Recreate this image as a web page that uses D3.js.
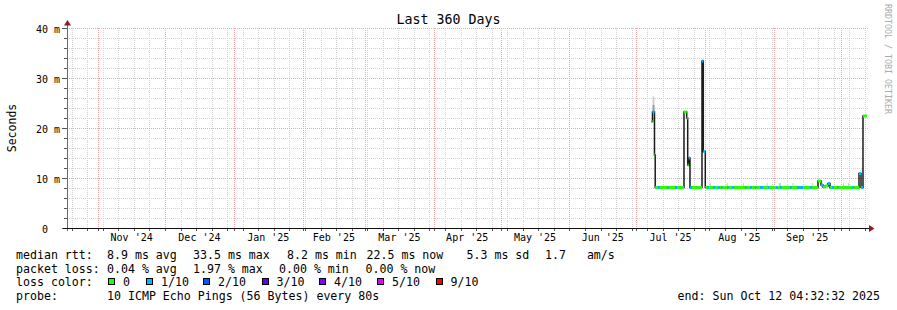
<!DOCTYPE html>
<html lang="en">
    <head>
        <meta charset="utf-8">
        <title>Last 360 Days</title>
        <style>
            body { margin: 0; background: #ffffff; }
            svg text { font-family: "DejaVu Sans Mono", monospace; fill: #000000; }
        </style>
    </head>
    <body>
        <div id="wrapper"></div>
        <script src="https://cdn.jsdelivr.net/npm/d3@7"></script>
        <script>
            // time range of the graph (UTC)
            const rangeStart = "2024-10-17T21:50:00Z"
            const rangeEnd = "2025-10-12T21:50:00Z"

            const yGridValues = [0, 2, 4, 6, 8, 10, 12, 14, 16, 18, 20, 22, 24, 26, 28, 30, 32, 34, 36, 38, 40]
            const yTicks = [0, 10, 20, 30, 40]
            const yTickLabels = ["0  ", "10 m", "20 m", "30 m", "40 m"]

            // median rtt (ms), each sample holds until the next one
            const medianTimes = [
                "2025-07-07T17:00Z", "2025-07-08T09:00Z", "2025-07-09T06:40Z", "2025-07-09T14:30Z",
                "2025-07-10T20:30Z", "2025-07-11T18:00Z", "2025-07-14T21:40Z", "2025-07-15T14:00Z",
                "2025-07-18T12:00Z", "2025-07-19T09:40Z", "2025-07-22T13:20Z", "2025-07-23T18:30Z",
                "2025-07-24T05:20Z", "2025-07-24T16:00Z", "2025-07-25T06:00Z", "2025-07-26T03:40Z",
                "2025-07-30T15:40Z", "2025-07-31T05:50Z", "2025-08-01T03:20Z", "2025-08-01T21:40Z",
                "2025-08-02T19:20Z", "2025-08-04T14:30Z", "2025-08-05T12:00Z", "2025-08-06T20:30Z",
                "2025-08-07T12:40Z", "2025-08-08T04:50Z", "2025-08-08T21:00Z", "2025-08-10T21:40Z",
                "2025-08-11T14:00Z", "2025-08-13T03:40Z", "2025-08-13T20:00Z", "2025-08-19T00:00Z",
                "2025-08-19T16:20Z", "2025-08-21T06:00Z", "2025-08-22T03:40Z", "2025-08-23T12:00Z",
                "2025-08-24T04:20Z", "2025-08-25T18:00Z", "2025-08-27T02:30Z", "2025-08-29T08:30Z",
                "2025-08-29T19:20Z", "2025-09-01T23:00Z", "2025-09-02T15:00Z", "2025-09-03T18:00Z",
                "2025-09-04T15:40Z", "2025-09-08T06:00Z", "2025-09-09T03:40Z", "2025-09-11T09:40Z",
                "2025-09-14T02:30Z", "2025-09-17T06:00Z", "2025-09-18T03:40Z", "2025-09-20T20:30Z",
                "2025-09-22T05:00Z", "2025-09-23T02:30Z", "2025-09-24T00:00Z", "2025-09-25T08:30Z",
                "2025-09-26T06:00Z", "2025-09-27T03:40Z", "2025-09-28T01:20Z", "2025-09-29T09:40Z",
                "2025-09-30T02:00Z", "2025-10-06T03:40Z", "2025-10-06T20:00Z", "2025-10-09T07:20Z",
                "2025-10-10T05:00Z", "2025-10-11T02:30Z"
            ]
            const medianValues = [
                21.3, 23.2, 14.6, 8.1,
                8.1, 8.1, 8.1, 8.1,
                8.1, 8.1, 23.2, 22.0,
                12.6, 14.0, 8.1, 8.1,
                33.4, 15.3, 8.1, 8.1,
                8.1, 8.1, 8.1, 8.1,
                8.1, 8.1, 8.1, 8.1,
                8.1, 8.1, 8.1, 8.1,
                8.1, 8.1, 8.1, 8.1,
                8.1, 8.1, 8.1, 8.1,
                8.1, 8.1, 8.1, 8.1,
                8.1, 8.1, 8.1, 8.1,
                8.1, 8.1, 8.1, 9.4,
                8.6, 8.2, 8.4, 8.9,
                8.1, 8.1, 8.1, 8.1,
                8.1, 8.1, 8.1, 10.9,
                8.1, 22.4
            ]
            // packet loss bin of each sample (index into lossLabels)
            const medianLoss = [
                0, 1, 0, 0,
                1, 0, 1, 0,
                1, 0, 0, 0,
                0, 1, 1, 0,
                1, 1, 0, 1,
                0, 1, 0, 1,
                0, 1, 0, 1,
                0, 1, 0, 1,
                0, 1, 0, 1,
                0, 1, 0, 1,
                0, 1, 0, 1,
                0, 1, 0, 1,
                0, 1, 0, 0,
                1, 0, 0, 1,
                0, 1, 0, 1,
                0, 1, 0, 1,
                1, 0
            ]

            // smoke (spread of the single pings)
            const smokeStart = [
                "2025-07-08T10:00Z", "2025-08-03T06:00Z", "2025-08-10T18:30Z", "2025-08-18T02:30Z",
                "2025-08-28T18:30Z", "2025-09-03T07:20Z", "2025-09-09T09:00Z", "2025-09-18T00:30Z",
                "2025-10-02T02:30Z", "2025-10-04T08:30Z"
            ]
            const smokeStop = [
                "2025-07-09T06:40Z", "2025-08-03T17:00Z", "2025-08-11T05:30Z", "2025-08-18T13:30Z",
                "2025-08-29T05:30Z", "2025-09-04T05:00Z", "2025-09-09T20:00Z", "2025-09-18T11:30Z",
                "2025-10-02T13:30Z", "2025-10-04T19:30Z"
            ]
            const smokeLow = [23.3, 8.1, 8.1, 8.1, 8.1, 8.1, 8.1, 8.1, 8.1, 8.1]
            const smokeHigh = [26.3, 9.0, 9.0, 9.0, 9.0, 9.0, 9.0, 9.0, 9.0, 9.0]
            const smokeCoreStart = ["2025-07-08T10:00Z"]
            const smokeCoreStop = ["2025-07-09T06:40Z"]
            const smokeCoreLow = [23.3]
            const smokeCoreHigh = [24.6]

            const lossLabels = ["0", "1/10", "2/10", "3/10", "4/10", "5/10", "9/10"]
            const lossColors = ["#26ff00", "#00b8ff", "#0059ff", "#5e00ff", "#7e00ff", "#dd00ff", "#ff0000"]

            const medianLegend = ["8.9 ms avg", "33.5 ms max", "8.2 ms min", "22.5 ms now", "5.3 ms sd", "1.7   am/s"]
            const lossLegend = ["0.04 % avg", "1.97 % max", "0.00 % min", "0.00 % now"]
            const probeText = "10 ICMP Echo Pings (56 Bytes) every 80s"
            const endText = "end: Sun Oct 12 04:32:32 2025"

            function drawChart() {
                let dimensions = {
                    width: 897,
                    height: 310,
                    margin: {
                        top: 28,
                        right: 30,
                        bottom: 82,
                        left: 67,
                    },
                }
                dimensions.boundedWidth = dimensions.width - dimensions.margin.left - dimensions.margin.right
                dimensions.boundedHeight = dimensions.height - dimensions.margin.top - dimensions.margin.bottom

                const left = dimensions.margin.left
                const right = left + dimensions.boundedWidth
                const top = dimensions.margin.top
                const bottom = top + dimensions.boundedHeight
                const px = v => Math.round(v) + 0.5

                const xScale = d3.scaleUtc()
                    .domain([new Date(rangeStart), new Date(rangeEnd)])
                    .range([left, right])
                const yScale = d3.scaleLinear()
                    .domain([0, 40])
                    .range([bottom, top])

                const wrapper = d3.select("#wrapper")
                    .append("svg")
                    .attr("width", dimensions.width)
                    .attr("height", dimensions.height)

                wrapper.append("rect")
                    .attr("width", dimensions.width)
                    .attr("height", dimensions.height)
                    .attr("fill", "#ffffff")

                // grid
                const grid = wrapper.append("g")
                    .attr("shape-rendering", "crispEdges")
                const [t0, t1] = xScale.domain()
                const weeks = d3.utcSunday.range(t0, t1)
                const months = d3.utcMonth.range(t0, t1)

                grid.selectAll(".hgrid")
                    .data(yGridValues.filter(v => v % 10 !== 0))
                    .join("line")
                    .attr("x1", left).attr("x2", right + 2)
                    .attr("y1", d => px(yScale(d))).attr("y2", d => px(yScale(d)))
                    .attr("stroke", "#d2d2d2")
                    .attr("stroke-dasharray", "1,1")
                grid.selectAll(".vgrid")
                    .data(weeks)
                    .join("line")
                    .attr("x1", d => px(xScale(d))).attr("x2", d => px(xScale(d)))
                    .attr("y1", top).attr("y2", bottom)
                    .attr("stroke", "#d2d2d2")
                    .attr("stroke-dasharray", "1,1")
                grid.selectAll(".hmgrid")
                    .data(yTicks)
                    .join("line")
                    .attr("x1", left).attr("x2", right + 2)
                    .attr("y1", d => px(yScale(d))).attr("y2", d => px(yScale(d)))
                    .attr("stroke", "#f4a4a4")
                    .attr("stroke-dasharray", "1,1")
                grid.selectAll(".vmgrid")
                    .data(months)
                    .join("line")
                    .attr("x1", d => px(xScale(d))).attr("x2", d => px(xScale(d)))
                    .attr("y1", top).attr("y2", bottom)
                    .attr("stroke", "#f4a4a4")
                    .attr("stroke-dasharray", "1,1")

                // smoke
                const smoke = wrapper.append("g")
                smoke.selectAll("rect.smoke")
                    .data(smokeStart)
                    .join("rect")
                    .attr("class", "smoke")
                    .attr("x", (d, i) => xScale(new Date(d)))
                    .attr("width", (d, i) => xScale(new Date(smokeStop[i])) - xScale(new Date(d)))
                    .attr("y", (d, i) => yScale(smokeHigh[i]))
                    .attr("height", (d, i) => yScale(smokeLow[i]) - yScale(smokeHigh[i]))
                    .attr("fill", "#cccccc")
                smoke.selectAll("rect.core")
                    .data(smokeCoreStart)
                    .join("rect")
                    .attr("class", "core")
                    .attr("x", (d, i) => xScale(new Date(d)))
                    .attr("width", (d, i) => xScale(new Date(smokeCoreStop[i])) - xScale(new Date(d)))
                    .attr("y", (d, i) => yScale(smokeCoreHigh[i]))
                    .attr("height", (d, i) => yScale(smokeCoreLow[i]) - yScale(smokeCoreHigh[i]))
                    .attr("fill", "#9e9e9e")

                // median line: dark step line, then loss coloured segments on top
                const samples = medianTimes.map((t, i) => ({
                    start: new Date(t),
                    stop: i < medianTimes.length - 1 ? new Date(medianTimes[i + 1]) : t1,
                    value: medianValues[i],
                    loss: medianLoss[i],
                }))
                const stepPoints = samples.map(d => [d.start, d.value])
                stepPoints.push([t1, samples[samples.length - 1].value])

                const lineGenerator = d3.line()
                    .x(d => xScale(d[0]))
                    .y(d => yScale(d[1]))
                    .curve(d3.curveStepAfter)

                wrapper.append("path")
                    .attr("d", lineGenerator(stepPoints))
                    .attr("fill", "none")
                    .attr("stroke", "#1c1c1c")
                    .attr("stroke-width", 1.5)

                wrapper.append("g")
                    .selectAll("line")
                    .data(samples)
                    .join("line")
                    .attr("x1", d => xScale(d.start))
                    .attr("x2", d => xScale(d.stop))
                    .attr("y1", d => yScale(d.value))
                    .attr("y2", d => yScale(d.value))
                    .attr("stroke", d => lossColors[d.loss])
                    .attr("stroke-width", 3)

                // axes
                const axes = wrapper.append("g")
                    .attr("shape-rendering", "crispEdges")
                axes.selectAll(".ytick")
                    .data(yGridValues)
                    .join("line")
                    .attr("x1", d => d % 10 === 0 ? left - 5 : left - 3).attr("x2", left)
                    .attr("y1", d => px(yScale(d))).attr("y2", d => px(yScale(d)))
                    .attr("stroke", "#555555")
                axes.selectAll(".xtick")
                    .data(weeks.concat(months))
                    .join("line")
                    .attr("x1", d => px(xScale(d))).attr("x2", d => px(xScale(d)))
                    .attr("y1", bottom).attr("y2", bottom + 3)
                    .attr("stroke", "#555555")
                axes.append("line")
                    .attr("x1", px(left)).attr("x2", px(left))
                    .attr("y1", top - 3).attr("y2", bottom + 3)
                    .attr("stroke", "#6a6a6a")
                axes.append("line")
                    .attr("x1", left - 4).attr("x2", right + 3)
                    .attr("y1", px(bottom)).attr("y2", px(bottom))
                    .attr("stroke", "#111111")

                const arrowColor = "#8c1c1c"
                wrapper.append("path")
                    .attr("d", `M${px(left)},${top - 8}L${px(left) - 3.5},${top - 2.5}L${px(left) + 3.5},${top - 2.5}Z`)
                    .attr("fill", arrowColor)
                wrapper.append("path")
                    .attr("d", `M${right + 7.5},${px(bottom)}L${right + 2},${px(bottom) - 3.5}L${right + 2},${px(bottom) + 3.5}Z`)
                    .attr("fill", arrowColor)

                // y labels
                wrapper.append("g")
                    .selectAll("text")
                    .data(yTicks)
                    .join("text")
                    .attr("x", left - 7)
                    .attr("y", d => yScale(d) + 4.5)
                    .attr("text-anchor", "end")
                    .attr("xml:space", "preserve")
                    .style("white-space", "pre")
                    .style("font-size", "10px")
                    .text((d, i) => yTickLabels[i])

                // x labels centred in each month
                const monthFormat = d3.utcFormat("%b '%y")
                const labelMonths = d3.utcMonth.range(d3.utcMonth.floor(t0), t1)
                    .map(m => ({ month: m, mid: new Date((+m + +d3.utcMonth.offset(m, 1)) / 2) }))
                    .filter(d => d.mid > t0 && d.mid < t1)
                wrapper.append("g")
                    .selectAll("text")
                    .data(labelMonths)
                    .join("text")
                    .attr("x", d => xScale(d.mid))
                    .attr("y", bottom + 13)
                    .attr("text-anchor", "middle")
                    .style("font-size", "10px")
                    .text(d => monthFormat(d.month))

                // titles
                wrapper.append("text")
                    .attr("x", dimensions.width / 2)
                    .attr("y", 24)
                    .attr("text-anchor", "middle")
                    .style("font-size", "13.3px")
                    .text("Last 360 Days")
                wrapper.append("text")
                    .attr("transform", `translate(16, ${(top + bottom) / 2}) rotate(-90)`)
                    .attr("text-anchor", "middle")
                    .style("font-size", "11.5px")
                    .text("Seconds")
                wrapper.append("text")
                    .attr("transform", `translate(885, 4) rotate(90)`)
                    .style("font-size", "8.3px")
                    .style("fill", "#ababab")
                    .text("RRDTOOL / TOBI OETIKER")

                // legend
                const legend = wrapper.append("g")
                    .style("font-size", "11.6px")
                const rowY = [259, 272.7, 286.4, 300.1]
                const medianX = [107, 193, 287, 366.5, 466.5, 545]
                const lossX = [107, 193, 279, 365.5]
                const boxX = [108, 146, 203, 261.5, 319, 377, 435.5]

                legend.append("text").attr("x", 16).attr("y", rowY[0]).text("median rtt:")
                legend.selectAll(".median")
                    .data(medianLegend)
                    .join("text")
                    .attr("x", (d, i) => medianX[i])
                    .attr("y", rowY[0])
                    .attr("xml:space", "preserve")
                    .style("white-space", "pre")
                    .text(d => d)

                legend.append("text").attr("x", 16).attr("y", rowY[1]).text("packet loss:")
                legend.selectAll(".loss")
                    .data(lossLegend)
                    .join("text")
                    .attr("x", (d, i) => lossX[i])
                    .attr("y", rowY[1])
                    .text(d => d)

                legend.append("text").attr("x", 16).attr("y", rowY[2]).text("loss color:")
                legend.selectAll(".lossbox")
                    .data(lossColors)
                    .join("rect")
                    .attr("x", (d, i) => boxX[i] + 0.5)
                    .attr("y", rowY[2] - 7.5)
                    .attr("width", 6)
                    .attr("height", 6)
                    .attr("fill", d => d)
                    .attr("stroke", "#000000")
                    .attr("shape-rendering", "crispEdges")
                legend.selectAll(".losslabel")
                    .data(lossLabels)
                    .join("text")
                    .attr("x", (d, i) => boxX[i] + 15)
                    .attr("y", rowY[2])
                    .text(d => d)

                legend.append("text").attr("x", 16).attr("y", rowY[3]).text("probe:")
                legend.append("text").attr("x", 107).attr("y", rowY[3]).text(probeText)
                legend.append("text")
                    .attr("x", 880)
                    .attr("y", rowY[3])
                    .attr("text-anchor", "end")
                    .text(endText)
            }
            drawChart()
        </script>
    </body>
</html>
